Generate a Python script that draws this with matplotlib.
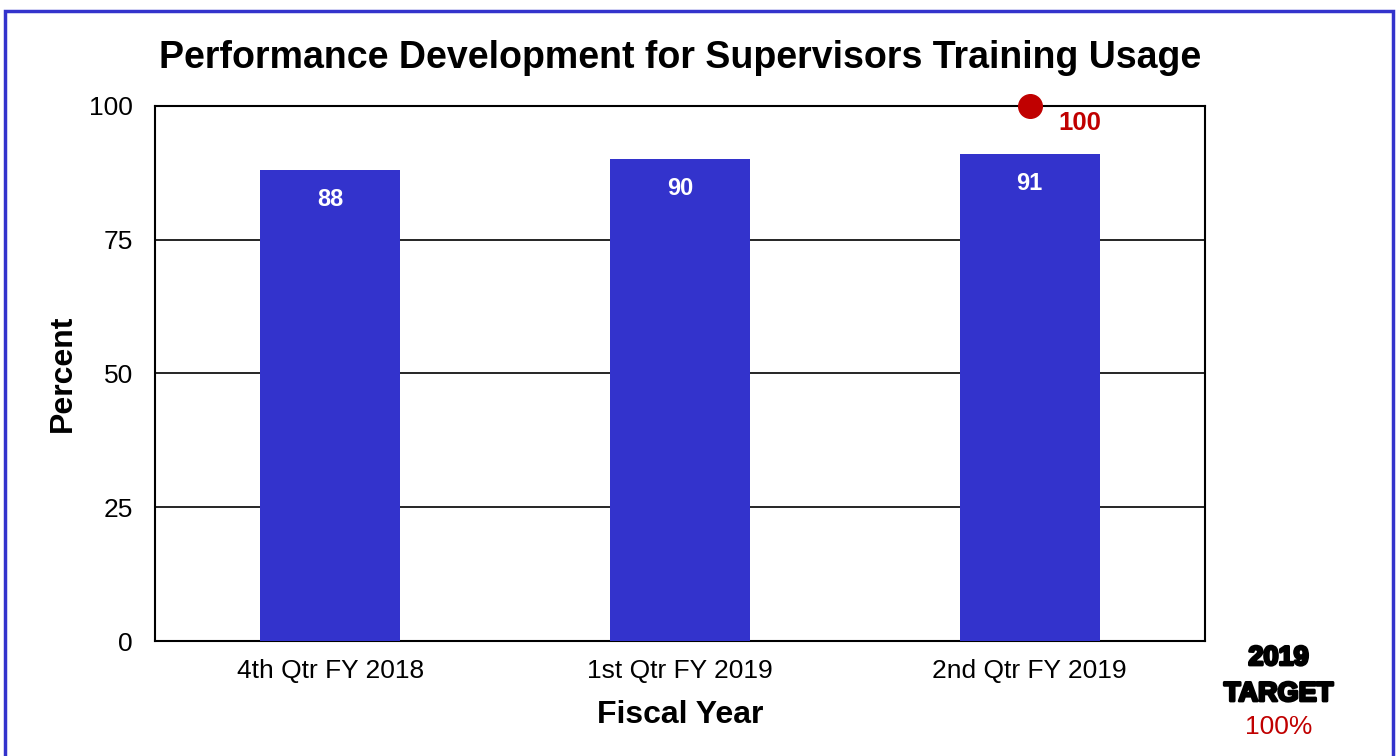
import matplotlib.pyplot as plt
import matplotlib.patheffects as pe
from matplotlib.patches import Rectangle

plt.rcParams['font.family'] = ['Liberation Sans', 'DejaVu Sans']

# Data
quarters = ["4th Qtr FY 2018", "1st Qtr FY 2019", "2nd Qtr FY 2019"]
usage_pct = [88, 90, 91]
target_value = 100
target_index = 2
y_ticks = [0, 25, 50, 75, 100]

bar_color = '#3333CC'
target_red = '#C00000'

fig = plt.figure(figsize=(13.99, 7.56), dpi=100)
ax = fig.add_axes([0.111, 0.152, 0.750, 0.708])

x = range(len(quarters))
bars = ax.bar(x, usage_pct, width=0.40, color=bar_color, zorder=3)

for b, v in zip(bars, usage_pct):
    ax.annotate(f"{v}", (b.get_x() + b.get_width() / 2, v),
                xytext=(0, -21), textcoords='offset points',
                ha='center', va='center', color='white',
                fontsize=17, fontweight='bold', zorder=4)

# target marker
ax.plot([target_index], [target_value], 'o', color=target_red,
        markersize=17, zorder=5, clip_on=False)
ax.annotate(f"{target_value}", (target_index, target_value),
            xytext=(36, -12), textcoords='offset points',
            ha='center', va='center', color=target_red,
            fontsize=18.5, fontweight='bold')

ax.set_xlim(-0.5, 2.5)
ax.set_ylim(0, 100)
ax.set_yticks(y_ticks)
ax.set_xticks(list(x))
ax.set_xticklabels(quarters)
ax.tick_params(axis='both', length=0, labelsize=19)
ax.tick_params(axis='x', pad=13)
ax.tick_params(axis='y', pad=16)
ax.yaxis.grid(True, color='black', linewidth=1.2, zorder=1)
for s in ax.spines.values():
    s.set_linewidth(1.5)

ax.set_title("Performance Development for Supervisors Training Usage",
             fontsize=27, fontweight='bold', pad=27)
ax.set_ylabel("Percent", fontsize=23, fontweight='bold', labelpad=8)
ax.set_xlabel("Fiscal Year", fontsize=23, fontweight='bold', labelpad=12)

# target note on the right
heavy = [pe.withStroke(linewidth=2.0, foreground='black')]
fig.text(0.914, 1 - 658 / 756, "2019", ha='center', va='center',
         fontsize=19.5, fontweight='bold', path_effects=heavy)
fig.text(0.914, 1 - 694 / 756, "TARGET", ha='center', va='center',
         fontsize=19.5, fontweight='bold', path_effects=heavy)
fig.text(0.914, 1 - 727 / 756, "100%", ha='center', va='center',
         fontsize=19, color=target_red)

# frame around the whole figure
fig.patches.append(Rectangle((5 / 1399, -0.05), 1388 / 1399, 1.05 - 11 / 756,
                             transform=fig.transFigure, fill=False,
                             edgecolor=bar_color, linewidth=2.5))

fig.savefig("out.png", dpi=100)
